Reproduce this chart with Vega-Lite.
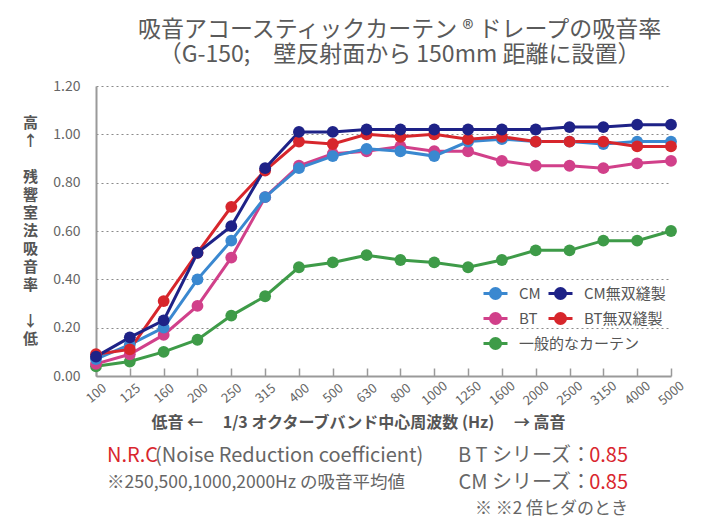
{
  "$schema": "https://vega.github.io/schema/vega-lite/v6.json",
  "padding": {"left": 22, "right": 5, "top": 19, "bottom": 0},
  "background": "#ffffff",
  "title": {
    "text": ["吸音アコースティックカーテン ® ドレープの吸音率", "（G-150;　壁反射面から 150mm 距離に設置）"],
    "fontSize": 23,
    "lineHeight": 25,
    "fontWeight": "normal",
    "color": "#5a5a5a",
    "anchor": "middle",
    "dx": 45,
    "offset": 12
  },
  "config": {
    "font": "Noto Sans CJK JP",
    "view": {"stroke": null},
    "axis": {
      "labelColor": "#666666",
      "domainColor": "#9a9a9a",
      "domainWidth": 2,
      "tickColor": "#9a9a9a",
      "titleColor": "#555555"
    }
  },
  "datasets": {
    "curves": [
      {"freq": "100", "series": "一般的なカーテン", "value": 0.04},
      {"freq": "125", "series": "一般的なカーテン", "value": 0.06},
      {"freq": "160", "series": "一般的なカーテン", "value": 0.10},
      {"freq": "200", "series": "一般的なカーテン", "value": 0.15},
      {"freq": "250", "series": "一般的なカーテン", "value": 0.25},
      {"freq": "315", "series": "一般的なカーテン", "value": 0.33},
      {"freq": "400", "series": "一般的なカーテン", "value": 0.45},
      {"freq": "500", "series": "一般的なカーテン", "value": 0.47},
      {"freq": "630", "series": "一般的なカーテン", "value": 0.50},
      {"freq": "800", "series": "一般的なカーテン", "value": 0.48},
      {"freq": "1000", "series": "一般的なカーテン", "value": 0.47},
      {"freq": "1250", "series": "一般的なカーテン", "value": 0.45},
      {"freq": "1600", "series": "一般的なカーテン", "value": 0.48},
      {"freq": "2000", "series": "一般的なカーテン", "value": 0.52},
      {"freq": "2500", "series": "一般的なカーテン", "value": 0.52},
      {"freq": "3150", "series": "一般的なカーテン", "value": 0.56},
      {"freq": "4000", "series": "一般的なカーテン", "value": 0.56},
      {"freq": "5000", "series": "一般的なカーテン", "value": 0.60},
      {"freq": "100", "series": "BT", "value": 0.05},
      {"freq": "125", "series": "BT", "value": 0.09},
      {"freq": "160", "series": "BT", "value": 0.17},
      {"freq": "200", "series": "BT", "value": 0.29},
      {"freq": "250", "series": "BT", "value": 0.49},
      {"freq": "315", "series": "BT", "value": 0.74},
      {"freq": "400", "series": "BT", "value": 0.87},
      {"freq": "500", "series": "BT", "value": 0.92},
      {"freq": "630", "series": "BT", "value": 0.93},
      {"freq": "800", "series": "BT", "value": 0.95},
      {"freq": "1000", "series": "BT", "value": 0.93},
      {"freq": "1250", "series": "BT", "value": 0.93},
      {"freq": "1600", "series": "BT", "value": 0.89},
      {"freq": "2000", "series": "BT", "value": 0.87},
      {"freq": "2500", "series": "BT", "value": 0.87},
      {"freq": "3150", "series": "BT", "value": 0.86},
      {"freq": "4000", "series": "BT", "value": 0.88},
      {"freq": "5000", "series": "BT", "value": 0.89},
      {"freq": "100", "series": "CM", "value": 0.07},
      {"freq": "125", "series": "CM", "value": 0.13},
      {"freq": "160", "series": "CM", "value": 0.20},
      {"freq": "200", "series": "CM", "value": 0.40},
      {"freq": "250", "series": "CM", "value": 0.56},
      {"freq": "315", "series": "CM", "value": 0.74},
      {"freq": "400", "series": "CM", "value": 0.86},
      {"freq": "500", "series": "CM", "value": 0.91},
      {"freq": "630", "series": "CM", "value": 0.94},
      {"freq": "800", "series": "CM", "value": 0.93},
      {"freq": "1000", "series": "CM", "value": 0.91},
      {"freq": "1250", "series": "CM", "value": 0.97},
      {"freq": "1600", "series": "CM", "value": 0.98},
      {"freq": "2000", "series": "CM", "value": 0.97},
      {"freq": "2500", "series": "CM", "value": 0.97},
      {"freq": "3150", "series": "CM", "value": 0.96},
      {"freq": "4000", "series": "CM", "value": 0.97},
      {"freq": "5000", "series": "CM", "value": 0.97},
      {"freq": "100", "series": "BT無双縫製", "value": 0.09},
      {"freq": "125", "series": "BT無双縫製", "value": 0.11},
      {"freq": "160", "series": "BT無双縫製", "value": 0.31},
      {"freq": "200", "series": "BT無双縫製", "value": 0.51},
      {"freq": "250", "series": "BT無双縫製", "value": 0.70},
      {"freq": "315", "series": "BT無双縫製", "value": 0.85},
      {"freq": "400", "series": "BT無双縫製", "value": 0.97},
      {"freq": "500", "series": "BT無双縫製", "value": 0.96},
      {"freq": "630", "series": "BT無双縫製", "value": 1.00},
      {"freq": "800", "series": "BT無双縫製", "value": 0.99},
      {"freq": "1000", "series": "BT無双縫製", "value": 1.00},
      {"freq": "1250", "series": "BT無双縫製", "value": 0.98},
      {"freq": "1600", "series": "BT無双縫製", "value": 0.99},
      {"freq": "2000", "series": "BT無双縫製", "value": 0.97},
      {"freq": "2500", "series": "BT無双縫製", "value": 0.97},
      {"freq": "3150", "series": "BT無双縫製", "value": 0.97},
      {"freq": "4000", "series": "BT無双縫製", "value": 0.95},
      {"freq": "5000", "series": "BT無双縫製", "value": 0.95},
      {"freq": "100", "series": "CM無双縫製", "value": 0.08},
      {"freq": "125", "series": "CM無双縫製", "value": 0.16},
      {"freq": "160", "series": "CM無双縫製", "value": 0.23},
      {"freq": "200", "series": "CM無双縫製", "value": 0.51},
      {"freq": "250", "series": "CM無双縫製", "value": 0.62},
      {"freq": "315", "series": "CM無双縫製", "value": 0.86},
      {"freq": "400", "series": "CM無双縫製", "value": 1.01},
      {"freq": "500", "series": "CM無双縫製", "value": 1.01},
      {"freq": "630", "series": "CM無双縫製", "value": 1.02},
      {"freq": "800", "series": "CM無双縫製", "value": 1.02},
      {"freq": "1000", "series": "CM無双縫製", "value": 1.02},
      {"freq": "1250", "series": "CM無双縫製", "value": 1.02},
      {"freq": "1600", "series": "CM無双縫製", "value": 1.02},
      {"freq": "2000", "series": "CM無双縫製", "value": 1.02},
      {"freq": "2500", "series": "CM無双縫製", "value": 1.03},
      {"freq": "3150", "series": "CM無双縫製", "value": 1.03},
      {"freq": "4000", "series": "CM無双縫製", "value": 1.04},
      {"freq": "5000", "series": "CM無双縫製", "value": 1.04}
    ],
    "notes": [
      {"block": "left", "line": 1, "role": "nrc", "text": "N.R.C"},
      {"block": "left", "line": 1, "role": "desc", "text": "(Noise Reduction coefficient)"},
      {"block": "left", "line": 2, "role": "note", "text": "※250,500,1000,2000Hz の吸音平均値"},
      {"block": "right", "line": 1, "role": "series", "text": "B T シリーズ："},
      {"block": "right", "line": 1, "role": "nrcValue", "text": "0.85"},
      {"block": "right", "line": 2, "role": "series", "text": "CM シリーズ："},
      {"block": "right", "line": 2, "role": "nrcValue", "text": "0.85"},
      {"block": "right", "line": 3, "role": "footnote", "text": "※ ※2 倍ヒダのとき"}
    ]
  },
  "bounds": "flush",
  "spacing": 80,
  "vconcat": [
    {
      "width": 575,
      "height": 290,
      "data": {"name": "curves"},
      "encoding": {
        "x": {
          "field": "freq",
          "type": "ordinal",
          "sort": ["100", "125", "160", "200", "250", "315", "400", "500", "630", "800", "1000", "1250", "1600", "2000", "2500", "3150", "4000", "5000"],
          "scale": {"type": "point", "padding": 0},
          "axis": {
            "title": "低音 ←　 1/3 オクターブバンド中心周波数 (Hz)　 → 高音",
            "titleFontSize": 16,
            "titleFontWeight": "bold",
            "titleX": 262,
            "titleY": 46,
            "titleAlign": "center",
            "titleBaseline": "middle",
            "labelAngle": -40,
            "labelAlign": "center",
            "labelBaseline": "middle",
            "labelFontSize": 13,
            "labelPadding": 25,
            "tickSize": -8,
            "tickWidth": 1.5
          }
        },
        "y": {
          "field": "value",
          "type": "quantitative",
          "scale": {"domain": [0, 1.2]},
          "axis": {
            "values": [0, 0.2, 0.4, 0.6, 0.8, 1.0, 1.2],
            "format": ".2f",
            "ticks": false,
            "labelFontSize": 14,
            "labelPadding": 16,
            "grid": true,
            "gridDash": [2, 3],
            "gridColor": "#8a8a8a",
            "gridWidth": 1,
            "title": ["高", "↑", "\u200b", "残", "響", "室", "法", "吸", "音", "率", "\u200b", "↓", "低"],
            "titleAngle": 0,
            "titleAlign": "center",
            "titleBaseline": "top",
            "titleFontSize": 15,
            "titleFontWeight": "bold",
            "titleLineHeight": 18,
            "titleX": -66,
            "titleY": 29
          }
        },
        "color": {
          "field": "series",
          "type": "nominal",
          "scale": {
            "domain": ["CM", "CM無双縫製", "BT", "BT無双縫製", "一般的なカーテン"],
            "range": ["#3a88d0", "#1e2287", "#d1408a", "#d7262c", "#3e9b48"]
          },
          "legend": {
            "orient": "none",
            "direction": "horizontal",
            "legendX": 386,
            "legendY": 194,
            "columns": 2,
            "gridAlign": "none",
            "title": null,
            "symbolType": "M-1,0H1M0.42,0A0.42,0.42,0,1,1,-0.42,0A0.42,0.42,0,1,1,0.42,0Z",
            "symbolSize": 576,
            "symbolStrokeWidth": 3,
            "labelFontSize": 15,
            "labelColor": "#555555",
            "labelOffset": 10,
            "columnPadding": -98,
            "rowPadding": 0
          }
        }
      },
      "layer": [
        {"mark": {"type": "line", "strokeWidth": 3}},
        {"mark": {"type": "point", "filled": true, "size": 140, "opacity": 1}}
      ]
    },
    {
      "width": 532,
      "height": 53,
      "data": {"name": "notes"},
      "encoding": {
        "x": {
          "field": "block",
          "type": "nominal",
          "scale": {"type": "point", "domain": ["left", "right"], "padding": 0.0106, "align": 1},
          "axis": null
        },
        "y": {
          "field": "line",
          "type": "ordinal",
          "scale": {"type": "point", "domain": [1, 2, 3], "padding": 0},
          "axis": null
        },
        "text": {"field": "text", "type": "nominal"}
      },
      "layer": [
        {
          "transform": [{"filter": "datum.role == 'nrc'"}],
          "mark": {"type": "text", "align": "left", "baseline": "middle", "fontSize": 20, "color": "#d9262e"}
        },
        {
          "transform": [{"filter": "datum.role == 'desc'"}],
          "mark": {"type": "text", "align": "left", "baseline": "middle", "fontSize": 20, "dx": 48, "color": "#666666"}
        },
        {
          "transform": [{"filter": "datum.role == 'note'"}],
          "mark": {"type": "text", "align": "left", "baseline": "middle", "fontSize": 17.5, "color": "#666666"}
        },
        {
          "transform": [{"filter": "datum.role == 'series'"}],
          "mark": {"type": "text", "align": "right", "baseline": "middle", "fontSize": 20, "dx": -37, "color": "#666666"}
        },
        {
          "transform": [{"filter": "datum.role == 'nrcValue'"}],
          "mark": {"type": "text", "align": "right", "baseline": "middle", "fontSize": 20, "color": "#d9262e"}
        },
        {
          "transform": [{"filter": "datum.role == 'footnote'"}],
          "mark": {"type": "text", "align": "right", "baseline": "middle", "fontSize": 17, "color": "#666666"}
        }
      ]
    }
  ]
}
